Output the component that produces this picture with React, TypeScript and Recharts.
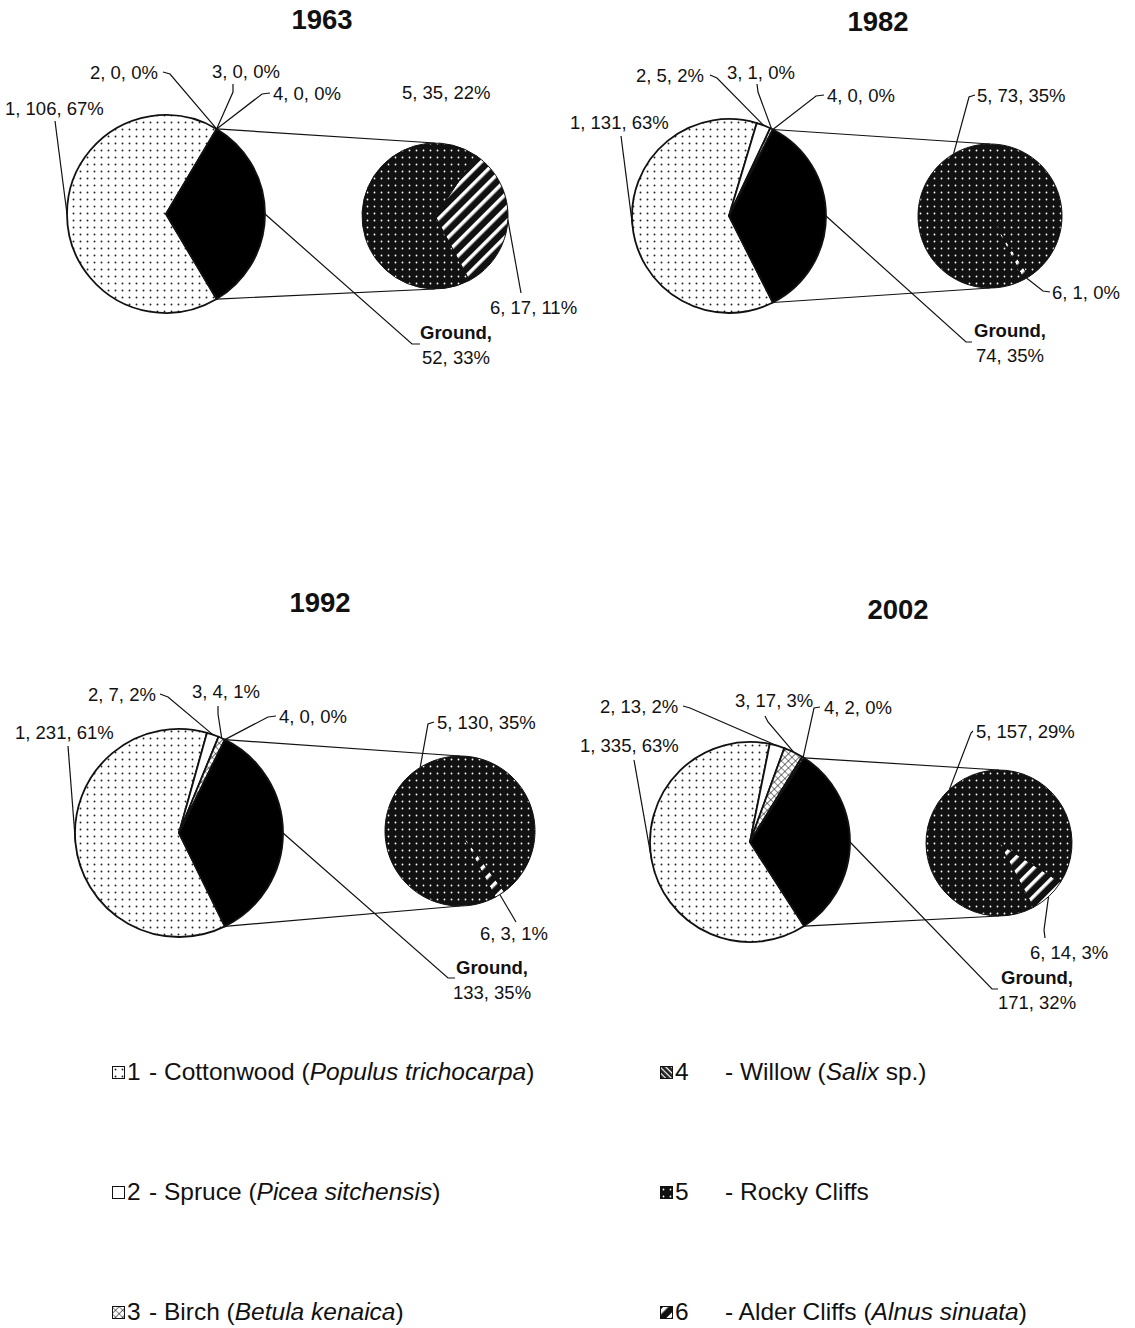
import React from 'react';
import { PieChart, Pie, Cell } from 'recharts';

// values
const YEARS = ['1963', '1982', '1992', '2002'];
const COTTONWOOD = [106, 131, 231, 335];
const SPRUCE = [0, 5, 7, 13];
const BIRCH = [0, 1, 4, 17];
const WILLOW = [0, 0, 0, 2];
const ROCKY = [35, 73, 130, 157];
const ALDER = [17, 1, 3, 14];

// percentages as printed on the labels
const PCT_COTTONWOOD = [67, 63, 61, 63];
const PCT_SPRUCE = [0, 2, 2, 2];
const PCT_BIRCH = [0, 0, 1, 3];
const PCT_WILLOW = [0, 0, 0, 0];
const PCT_ROCKY = [22, 35, 35, 29];
const PCT_ALDER = [11, 0, 1, 3];
const PCT_GROUND = [33, 35, 35, 32];

const LEGEND = [
  { id: 1, fill: 'url(#p-cotton)', parts: [['- Cottonwood (', false], ['Populus trichocarpa', true], [')', false]] },
  { id: 2, fill: 'url(#p-spruce)', parts: [['- Spruce (', false], ['Picea sitchensis', true], [')', false]] },
  { id: 3, fill: 'url(#p-birch)', parts: [['- Birch (', false], ['Betula kenaica', true], [')', false]] },
  { id: 4, fill: 'url(#p-willow)', parts: [['- Willow (', false], ['Salix', true], [' sp.)', false]] },
  { id: 5, fill: 'url(#p-rocky)', parts: [['- Rocky Cliffs', false]] },
  { id: 6, fill: 'url(#p-alder)', parts: [['- Alder Cliffs (', false], ['Alnus sinuata', true], [')', false]] },
];

const FONT = '"Liberation Sans", Arial, Helvetica, sans-serif';
const RAD = Math.PI / 180;
const MAIN_FILLS = ['url(#p-cotton)', 'url(#p-spruce)', 'url(#p-birch)', 'url(#p-willow)', '#000'];
const SEC_FILLS = ['url(#p-alder)', 'url(#p-rocky)'];

type Pt = [number, number];
type Spot = { x: number; y: number; leader: Pt[] };

// layout of each panel: pie centres, radii, label spots (leader points run from label to slice)
const LAYOUT: {
  title: Pt;
  main: { cx: number; cy: number; r: number };
  sec: { cx: number; cy: number; r: number };
  mainLabels: Spot[];
  secLabels: Spot[];
}[] = [
  {
    title: [322, 20],
    main: { cx: 166, cy: 214, r: 99 },
    sec: { cx: 435, cy: 216, r: 73 },
    mainLabels: [
      { x: 5, y: 108, leader: [[55, 121]] },
      { x: 90, y: 72, leader: [[163, 72], [170, 74]] },
      { x: 212, y: 71, leader: [[233, 84], [233, 92]] },
      { x: 273, y: 93, leader: [[270, 93], [262, 94]] },
      { x: 456, y: 332, leader: [[420, 344], [412, 344]] },
    ],
    secLabels: [
      { x: 490, y: 307, leader: [[521, 293]] },
      { x: 402, y: 92, leader: [] },
    ],
  },
  {
    title: [878, 22],
    main: { cx: 729, cy: 216, r: 97 },
    sec: { cx: 990, cy: 216, r: 72 },
    mainLabels: [
      { x: 570, y: 122, leader: [[621, 136]] },
      { x: 636, y: 75, leader: [[710, 75], [717, 78]] },
      { x: 727, y: 72, leader: [[757, 84], [758, 92]] },
      { x: 827, y: 95, leader: [[824, 95], [816, 96]] },
      { x: 1010, y: 330, leader: [[972, 342], [966, 342]] },
    ],
    secLabels: [
      { x: 1052, y: 292, leader: [[1050, 292], [1043, 291]] },
      { x: 977, y: 95, leader: [[975, 95], [969, 97]] },
    ],
  },
  {
    title: [320, 603],
    main: { cx: 179, cy: 833, r: 104 },
    sec: { cx: 460, cy: 831, r: 75 },
    mainLabels: [
      { x: 15, y: 732, leader: [[68, 746]] },
      { x: 88, y: 694, leader: [[160, 694], [168, 697]] },
      { x: 192, y: 691, leader: [[218, 706], [218, 714]] },
      { x: 279, y: 716, leader: [[276, 716], [268, 717]] },
      { x: 492, y: 967, leader: [[455, 978], [448, 978]] },
    ],
    secLabels: [
      { x: 480, y: 933, leader: [[516, 922]] },
      { x: 437, y: 722, leader: [[434, 722], [428, 724]] },
    ],
  },
  {
    title: [898, 610],
    main: { cx: 750, cy: 842, r: 100 },
    sec: { cx: 999, cy: 843, r: 73 },
    mainLabels: [
      { x: 580, y: 745, leader: [[634, 760]] },
      { x: 600, y: 706, leader: [[683, 706], [690, 708]] },
      { x: 735, y: 700, leader: [[765, 716], [768, 722]] },
      { x: 824, y: 707, leader: [[820, 707], [814, 708]] },
      { x: 1037, y: 977, leader: [[998, 989], [992, 989]] },
    ],
    secLabels: [
      { x: 1030, y: 952, leader: [[1045, 938], [1044, 930]] },
      { x: 976, y: 731, leader: [[973, 731], [971, 733]] },
    ],
  },
];

const polar = (cx: number, cy: number, r: number, a: number): Pt => [cx + r * Math.cos(a * RAD), cy - r * Math.sin(a * RAD)];

const mainData = (p: number) => [
  { name: '1', value: COTTONWOOD[p], pct: PCT_COTTONWOOD[p] },
  { name: '2', value: SPRUCE[p], pct: PCT_SPRUCE[p] },
  { name: '3', value: BIRCH[p], pct: PCT_BIRCH[p] },
  { name: '4', value: WILLOW[p], pct: PCT_WILLOW[p] },
  { name: 'Ground', value: ROCKY[p] + ALDER[p], pct: PCT_GROUND[p] },
];

const secData = (p: number) => [
  { name: '6', value: ALDER[p], pct: PCT_ALDER[p] },
  { name: '5', value: ROCKY[p], pct: PCT_ROCKY[p] },
];

const txt = { fontFamily: FONT, fontSize: 18.5, fill: '#111' };

const Leader = ({ pts }: { pts: Pt[] }) =>
  pts.length > 1 ? (
    <polyline points={pts.map((q) => q.join(',')).join(' ')} fill="none" stroke="#111" strokeWidth={1.2} />
  ) : null;

const mainLabel = (p: number) => (props: any) => {
  const { cx, cy, outerRadius, midAngle, index, startAngle, endAngle, payload } = props;
  const spot = LAYOUT[p].mainLabels[index];
  const tip = polar(cx, cy, outerRadius, midAngle);
  const d = payload ?? props;
  if (index === 4) {
    const sec = LAYOUT[p].sec;
    const e1 = polar(cx, cy, outerRadius, startAngle);
    const e2 = polar(cx, cy, outerRadius, endAngle);
    const [top, bot] = e1[1] < e2[1] ? [e1, e2] : [e2, e1];
    return (
      <g>
        <line x1={top[0]} y1={top[1]} x2={sec.cx} y2={sec.cy - sec.r} stroke="#111" strokeWidth={1.2} />
        <line x1={bot[0]} y1={bot[1]} x2={sec.cx} y2={sec.cy + sec.r} stroke="#111" strokeWidth={1.2} />
        <Leader pts={[...spot.leader, tip]} />
        <text {...txt} x={spot.x} y={spot.y} textAnchor="middle" dominantBaseline="central" fontWeight="bold">
          {d.name},
        </text>
        <text {...txt} x={spot.x} y={spot.y + 25} textAnchor="middle" dominantBaseline="central">
          {`${d.value}, ${d.pct}%`}
        </text>
      </g>
    );
  }
  return (
    <g>
      <Leader pts={[...spot.leader, tip]} />
      <text {...txt} x={spot.x} y={spot.y} textAnchor="start" dominantBaseline="central">
        {`${d.name}, ${d.value}, ${d.pct}%`}
      </text>
    </g>
  );
};

const secLabel = (p: number) => (props: any) => {
  const { cx, cy, outerRadius, midAngle, index, payload } = props;
  const spot = LAYOUT[p].secLabels[index];
  const tip = polar(cx, cy, outerRadius, midAngle);
  const d = payload ?? props;
  return (
    <g>
      {spot.leader.length > 0 && <Leader pts={[...spot.leader, tip]} />}
      <text {...txt} x={spot.x} y={spot.y} textAnchor="start" dominantBaseline="central">
        {`${d.name}, ${d.value}, ${d.pct}%`}
      </text>
    </g>
  );
};

const Patterns = () => (
  <svg width={0} height={0} style={{ position: 'absolute' }}>
    <defs>
      <pattern id="p-cotton" width={7} height={7} patternUnits="userSpaceOnUse">
        <rect width={7} height={7} fill="#fff" />
        <circle cx={3.5} cy={3.5} r={0.95} fill="#222" />
      </pattern>
      <pattern id="p-spruce" width={6} height={6} patternUnits="userSpaceOnUse">
        <rect width={6} height={6} fill="#fff" />
      </pattern>
      <pattern id="p-birch" width={5} height={5} patternUnits="userSpaceOnUse" patternTransform="rotate(45)">
        <rect width={5} height={5} fill="#fff" />
        <path d="M0 0H5M0 0V5" stroke="#111" strokeWidth={1.2} />
      </pattern>
      <pattern id="p-willow" width={4} height={4} patternUnits="userSpaceOnUse" patternTransform="rotate(45)">
        <rect width={4} height={4} fill="#222" />
        <rect width={4} height={1.2} fill="#fff" />
      </pattern>
      <pattern id="p-rocky" width={7} height={7} patternUnits="userSpaceOnUse">
        <rect width={7} height={7} fill="#111" />
        <circle cx={3.5} cy={3.5} r={0.9} fill="#fff" />
      </pattern>
      <pattern id="p-alder" width={10} height={10} patternUnits="userSpaceOnUse" patternTransform="rotate(-45)">
        <rect width={10} height={10} fill="#111" />
        <rect y={3} width={10} height={3.5} fill="#fff" />
      </pattern>
    </defs>
  </svg>
);

export default function App() {
  return (
    <div style={{ position: 'relative', width: 1135, height: 1328, background: '#fff', fontFamily: FONT }}>
      <style>{'body{margin:0}'}</style>
      <Patterns />
      <PieChart width={1135} height={1040} margin={{ top: 0, right: 0, bottom: 0, left: 0 }}>
        {YEARS.map((y, p) => {
          const m = LAYOUT[p].main;
          const md = mainData(p);
          const gFrac = md[4].value / md.reduce((s, d) => s + d.value, 0);
          const a = gFrac * 180;
          return (
            <Pie
              key={`main-${y}`}
              data={md}
              dataKey="value"
              nameKey="name"
              cx={m.cx}
              cy={m.cy}
              outerRadius={m.r}
              startAngle={-a}
              endAngle={-a - 360}
              stroke="#111"
              strokeWidth={1.8}
              label={mainLabel(p)}
              labelLine={false}
              isAnimationActive={false}
            >
              {md.map((d, i) => (
                <Cell key={d.name} fill={MAIN_FILLS[i]} />
              ))}
            </Pie>
          );
        })}
        {YEARS.map((y, p) => {
          const s = LAYOUT[p].sec;
          const sd = secData(p);
          return (
            <Pie
              key={`sec-${y}`}
              data={sd}
              dataKey="value"
              nameKey="name"
              cx={s.cx}
              cy={s.cy}
              outerRadius={s.r}
              startAngle={-62}
              endAngle={298}
              stroke="#111"
              strokeWidth={1}
              label={secLabel(p)}
              labelLine={false}
              isAnimationActive={false}
            >
              {sd.map((d, i) => (
                <Cell key={d.name} fill={SEC_FILLS[i]} />
              ))}
            </Pie>
          );
        })}
      </PieChart>
      {YEARS.map((y, p) => (
        <div
          key={`t-${y}`}
          style={{
            position: 'absolute',
            left: LAYOUT[p].title[0] - 60,
            top: LAYOUT[p].title[1] - 16,
            width: 120,
            textAlign: 'center',
            fontWeight: 'bold',
            fontSize: 27.5,
            lineHeight: '32px',
            color: '#111',
          }}
        >
          {y}
        </div>
      ))}
      {LEGEND.map((it, i) => {
        const col = i < 3 ? 0 : 1;
        const row = i % 3;
        const left = col === 0 ? 112 : 660;
        const top = 1072 + row * 120;
        return (
          <div
            key={it.id}
            style={{ position: 'absolute', left, top: top - 15, height: 30, display: 'flex', alignItems: 'center', fontSize: 24.5, color: '#111', whiteSpace: 'nowrap' }}
          >
            <svg width={13} height={13} style={{ marginRight: 2 }}>
              <rect x={0.5} y={0.5} width={12} height={12} fill={it.fill} stroke="#111" strokeWidth={1} />
            </svg>
            <span style={{ width: col === 0 ? 22 : 50 }}>{it.id}</span>
            <span>
              {it.parts.map(([t, ital], k) => (
                <span key={k} style={{ fontStyle: ital ? 'italic' : 'normal' }}>
                  {t as string}
                </span>
              ))}
            </span>
          </div>
        );
      })}
    </div>
  );
}
